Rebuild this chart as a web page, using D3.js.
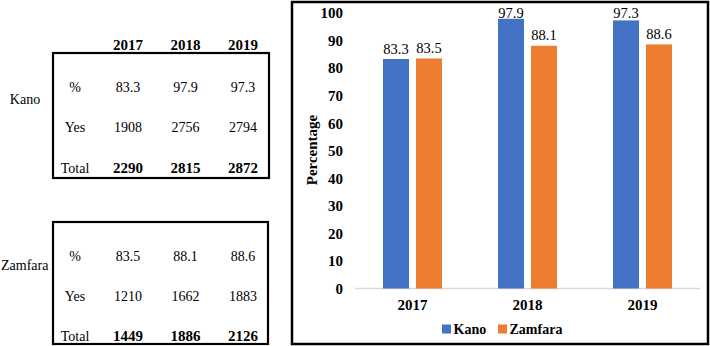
<!DOCTYPE html>
<html>
<head>
<meta charset="utf-8">
<script src="https://cdn.jsdelivr.net/npm/d3@7"></script>
<style>
  body { margin: 0; background: #fff; }
  svg text { font-family: "Liberation Serif", "Times New Roman", serif; fill: #000; }
</style>
</head>
<body>
<main></main>
<script>
// values
const years = ['2017', '2018', '2019']
const states = ['Kano', 'Zamfara']
const kanoPct = [83.3, 97.9, 97.3]
const zamfaraPct = [83.5, 88.1, 88.6]
const kanoYes = [1908, 2756, 2794]
const kanoTotal = [2290, 2815, 2872]
const zamfaraYes = [1210, 1662, 1883]
const zamfaraTotal = [1449, 1886, 2126]
const rowLabels = ['%', 'Yes', 'Total']
const yTicks = [0, 10, 20, 30, 40, 50, 60, 70, 80, 90, 100]

const colors = d3.scaleOrdinal().domain(states).range(['#4472C4', '#ED7D31'])

const svg = d3.select('main')
              .append('svg')
              .attr('width', 710)
              .attr('height', 346)

// ---------- left side : the two little tables ----------
const colX = d3.scalePoint().domain(years).range([128, 243])

const drawTable = (name, pct, yes, total, box, rowRange, labelPos) => {
    const g = svg.append('g')
    g.append('rect')
        .attr('x', box[0]).attr('y', box[1])
        .attr('width', box[2]).attr('height', box[3])
        .attr('fill', 'none')
        .attr('stroke', '#000')
        .attr('stroke-width', 2.2)

    const rowY = d3.scalePoint().domain(rowLabels).range(rowRange)

    g.append('text')
        .attr('x', labelPos[0]).attr('y', labelPos[1])
        .attr('text-anchor', labelPos[2])
        .attr('dominant-baseline', 'central')
        .style('font-size', '14px')
        .text(name)

    g.selectAll('.rowlabel')
        .data(rowLabels)
        .enter()
        .append('text')
        .attr('class', 'rowlabel')
        .attr('x', 75)
        .attr('y', d => rowY(d))
        .attr('text-anchor', 'middle')
        .attr('dominant-baseline', 'central')
        .style('font-size', '14px')
        .text(d => d)

    const rows = [
        { key: '%', vals: pct.map(d => d.toFixed(1)), bold: false },
        { key: 'Yes', vals: yes, bold: false },
        { key: 'Total', vals: total, bold: true }
    ]
    rows.forEach(r => {
        g.selectAll(null)
            .data(r.vals)
            .enter()
            .append('text')
            .attr('x', (d, i) => colX(years[i]))
            .attr('y', rowY(r.key))
            .attr('text-anchor', 'middle')
            .attr('dominant-baseline', 'central')
            .style('font-size', r.bold ? '15px' : '14px')
            .style('font-weight', r.bold ? 'bold' : 'normal')
            .text(d => d)
    })
}

// header years above the Kano table
svg.selectAll('.head')
    .data(years)
    .enter()
    .append('text')
    .attr('class', 'head')
    .attr('x', d => colX(d))
    .attr('y', 45)
    .attr('text-anchor', 'middle')
    .attr('dominant-baseline', 'central')
    .style('font-size', '15px')
    .style('font-weight', 'bold')
    .text(d => d)

drawTable('Kano', kanoPct, kanoYes, kanoTotal, [53, 53, 216, 125], [87, 168], [25, 99, 'middle'])
drawTable('Zamfara', zamfaraPct, zamfaraYes, zamfaraTotal, [53, 222, 215, 122], [256, 336], [1, 265, 'start'])

// ---------- right side : bar chart ----------
svg.append('rect')
    .attr('x', 292).attr('y', 2)
    .attr('width', 416).attr('height', 342)
    .attr('fill', 'none')
    .attr('stroke', '#000')
    .attr('stroke-width', 2.5)

const plot = { left: 355, right: 700, top: 13, bottom: 288.5 }

const x0 = d3.scaleBand()
             .domain(years)
             .range([plot.left, plot.right])
             .paddingInner(0.487)
             .paddingOuter(0.2435)

const x1 = d3.scaleBand()
             .domain(states)
             .range([0, x0.bandwidth()])
             .paddingInner(0.212)

const yScale = d3.scaleLinear()
                 .domain([0, 100])
                 .range([plot.bottom, plot.top])

const barData = years.map((yr, i) => ({
    year: yr,
    values: [
        { state: 'Kano', v: kanoPct[i] },
        { state: 'Zamfara', v: zamfaraPct[i] }
    ]
}))

// y axis (labels only)
const yAxis = d3.axisLeft(yScale)
                .tickValues(yTicks)
                .tickSize(0)
                .tickPadding(0)
svg.append('g')
    .attr('transform', 'translate(343,0)')
    .call(yAxis)
    .call(g => g.select('.domain').remove())
    .selectAll('text')
    .style('font-family', '"Liberation Serif", serif')
    .style('font-size', '15px')
    .style('font-weight', 'bold')
    .attr('fill', '#000')

// baseline
svg.append('line')
    .attr('x1', plot.left).attr('x2', plot.right)
    .attr('y1', yScale(0)).attr('y2', yScale(0))
    .attr('stroke', '#D9D9D9')
    .attr('stroke-width', 1.5)

// x axis labels
const xAxis = d3.axisBottom(x0).tickSize(0).tickPadding(0)
svg.append('g')
    .attr('transform', 'translate(0,' + (yScale(0) + 11) + ')')
    .call(xAxis)
    .call(g => g.select('.domain').remove())
    .selectAll('text')
    .style('font-family', '"Liberation Serif", serif')
    .style('font-size', '15px')
    .style('font-weight', 'bold')
    .attr('fill', '#000')

const groups = svg.selectAll('.grp')
                  .data(barData)
                  .enter()
                  .append('g')
                  .attr('class', 'grp')
                  .attr('transform', d => 'translate(' + x0(d.year) + ',0)')

groups.selectAll('rect')
    .data(d => d.values)
    .enter()
    .append('rect')
    .attr('x', d => x1(d.state))
    .attr('y', d => yScale(d.v))
    .attr('width', x1.bandwidth())
    .attr('height', d => yScale(0) - yScale(d.v))
    .attr('fill', d => colors(d.state))

// value labels, kept inside the plot top like excel does
groups.selectAll('.val')
    .data(d => d.values)
    .enter()
    .append('text')
    .attr('class', 'val')
    .attr('x', d => x1(d.state) + x1.bandwidth() / 2)
    .attr('y', d => Math.max(yScale(d.v) - 5.5, 17.5))
    .attr('text-anchor', 'middle')
    .style('font-size', '14.5px')
    .text(d => d.v.toFixed(1))

// y title
svg.append('text')
    .attr('transform', 'translate(312,150) rotate(-90)')
    .attr('text-anchor', 'middle')
    .attr('dominant-baseline', 'central')
    .style('font-size', '15px')
    .style('font-weight', 'bold')
    .text('Percentage')

// legend
const legendPos = [442, 498]
const legend = svg.selectAll('.leg')
                  .data(states)
                  .enter()
                  .append('g')
                  .attr('class', 'leg')
                  .attr('transform', (d, i) => 'translate(' + legendPos[i] + ',329)')
legend.append('rect')
    .attr('x', 0).attr('y', -4.5)
    .attr('width', 9).attr('height', 9)
    .attr('fill', d => colors(d))
legend.append('text')
    .attr('x', 11.5)
    .attr('dominant-baseline', 'central')
    .style('font-size', '14px')
    .style('font-weight', 'bold')
    .text(d => d)
</script>
</body>
</html>
